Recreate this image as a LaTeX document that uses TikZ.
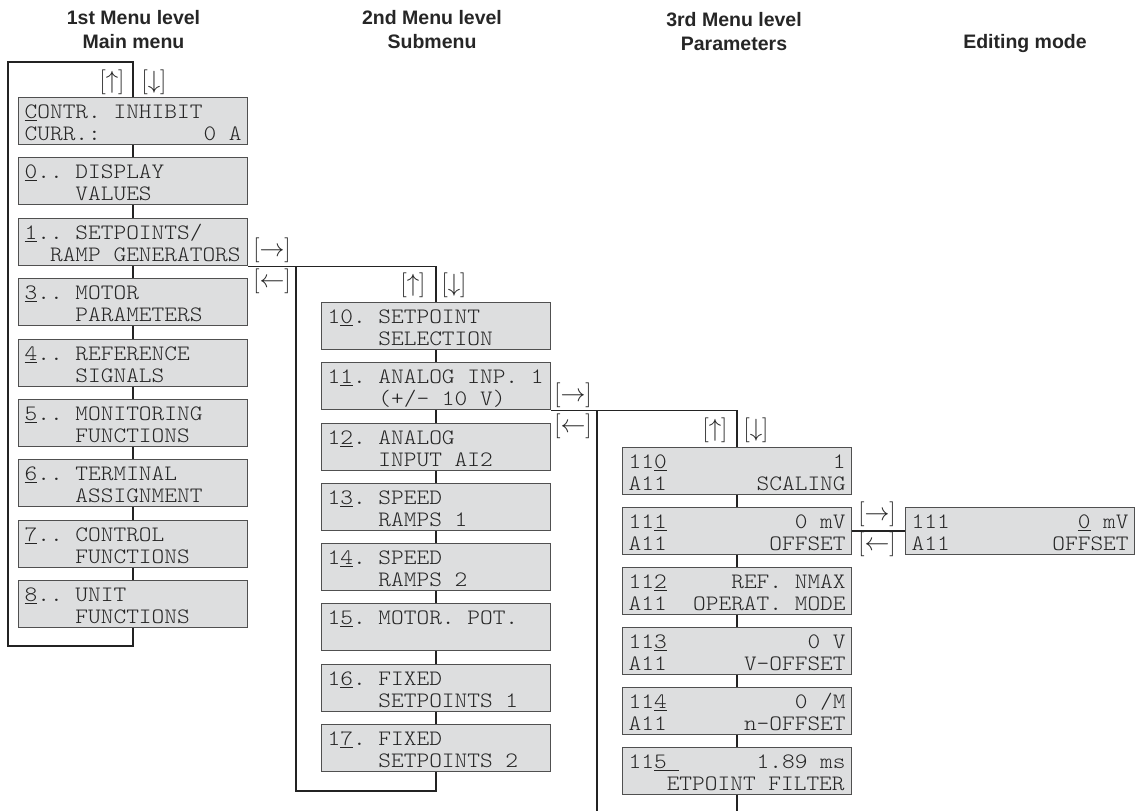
\documentclass[tikz,border=0pt]{standalone}
\usepackage{fontspec}
\setsansfont{Liberation Sans}
\newfontfamily\lcdfont{lmmonolt10-regular.otf}[FakeStretch=1.1]
\usepackage{tikz}
\definecolor{lcdfill}{RGB}{221,222,223}
\definecolor{lcdframe}{RGB}{80,80,80}
\definecolor{wire}{RGB}{35,35,35}
\newcommand{\lcd}[4]{\vtop{\frenchspacing\hbox to 217pt{#1\hfill#2}\hbox to 217pt{#3\hfill#4}}}
\tikzset{
  lcdbox/.style={draw=lcdframe, fill=lcdfill, line width=1.3pt, anchor=north west,
    inner xsep=6pt, inner ysep=0pt, text height=21pt, text depth=26pt,
    text=black!85, font=\lcdfont\fontsize{22}{22}\selectfont},
  link/.style={draw=wire, line width=1.4pt},
  keylabel/.style={inner sep=0pt, text=black!85, font=\fontsize{23}{23}\selectfont},
  heading/.style={align=center, text=black!85, font=\sffamily\bfseries\fontsize{19.5}{24}\selectfont}
}

\begin{document}
\begin{tikzpicture}[x=1pt,y=-1pt]
\useasboundingbox (0,0) rectangle (1136,811);
\node[heading] (h1) at (133.5,30) {1st Menu level\\Main menu};
\node[heading] (h2) at (432,30) {2nd Menu level\\Submenu};
\node[heading] (h3) at (734,32) {3rd Menu level\\Parameters};
\node[heading] (h4) at (1025,44) {Editing mode};
\node[lcdbox] (mC) at (18,97) {\lcd{\underline{C}ONTR. INHIBIT}{}{CURR.:}{0 A}};
\node[lcdbox] (m0) at (18,157) {\lcd{\underline{0}.. DISPLAY}{}{~~~~VALUES}{}};
\node[lcdbox] (m1) at (18,218) {\lcd{\underline{1}.. SETPOINTS/}{}{~~RAMP GENERATORS}{}};
\node[lcdbox] (m3) at (18,278) {\lcd{\underline{3}.. MOTOR}{}{~~~~PARAMETERS}{}};
\node[lcdbox] (m4) at (18,339) {\lcd{\underline{4}.. REFERENCE}{}{~~~~SIGNALS}{}};
\node[lcdbox] (m5) at (18,399) {\lcd{\underline{5}.. MONITORING}{}{~~~~FUNCTIONS}{}};
\node[lcdbox] (m6) at (18,459) {\lcd{\underline{6}.. TERMINAL}{}{~~~~ASSIGNMENT}{}};
\node[lcdbox] (m7) at (18,520) {\lcd{\underline{7}.. CONTROL}{}{~~~~FUNCTIONS}{}};
\node[lcdbox] (m8) at (18,580) {\lcd{\underline{8}.. UNIT}{}{~~~~FUNCTIONS}{}};
\node[lcdbox] (s10) at (321,302) {\lcd{1\underline{0}. SETPOINT}{}{~~~~SELECTION}{}};
\node[lcdbox] (s11) at (321,362) {\lcd{1\underline{1}. ANALOG INP. 1}{}{~~~~(+/- 10 V)}{}};
\node[lcdbox] (s12) at (321,423) {\lcd{1\underline{2}. ANALOG}{}{~~~~INPUT AI2}{}};
\node[lcdbox] (s13) at (321,483) {\lcd{1\underline{3}. SPEED}{}{~~~~RAMPS 1}{}};
\node[lcdbox] (s14) at (321,543) {\lcd{1\underline{4}. SPEED}{}{~~~~RAMPS 2}{}};
\node[lcdbox] (s15) at (321,603) {\lcd{1\underline{5}. MOTOR. POT.}{}{}{}};
\node[lcdbox] (s16) at (321,664) {\lcd{1\underline{6}. FIXED}{}{~~~~SETPOINTS 1}{}};
\node[lcdbox] (s17) at (321,724) {\lcd{1\underline{7}. FIXED}{}{~~~~SETPOINTS 2}{}};
\node[lcdbox] (p110) at (622,447) {\lcd{11\underline{0}}{1}{A11}{SCALING}};
\node[lcdbox] (p111) at (622,507) {\lcd{11\underline{1}}{0 mV}{A11}{OFFSET}};
\node[lcdbox] (p112) at (622,567) {\lcd{11\underline{2}}{REF. NMAX}{A11}{OPERAT. MODE}};
\node[lcdbox] (p113) at (622,627) {\lcd{11\underline{3}}{0 V}{A11}{V-OFFSET}};
\node[lcdbox] (p114) at (622,687) {\lcd{11\underline{4}}{0 /M}{A11}{n-OFFSET}};
\node[lcdbox] (p115) at (622,747) {\lcd{11\underline{5~}}{1.89 ms}{~~~ETPOINT FILTER}{}};
\node[lcdbox] (e111) at (905,507) {\lcd{111}{\underline{0} mV}{A11}{OFFSET}};
\node[keylabel] (k1up) at (112,82) {$[\uparrow]$};
\node[keylabel] (k1dn) at (154,82) {$[\downarrow]$};
\node[keylabel] (k1r) at (272,250) {$[\rightarrow]$};
\node[keylabel] (k1l) at (272,281) {$[\leftarrow]$};
\node[keylabel] (k2up) at (413,285) {$[\uparrow]$};
\node[keylabel] (k2dn) at (454,285) {$[\downarrow]$};
\node[keylabel] (k2r) at (573,395) {$[\rightarrow]$};
\node[keylabel] (k2l) at (573,426) {$[\leftarrow]$};
\node[keylabel] (k3up) at (715,430) {$[\uparrow]$};
\node[keylabel] (k3dn) at (756,430) {$[\downarrow]$};
\node[keylabel] (k4r) at (877,514) {$[\rightarrow]$};
\node[keylabel] (k4l) at (877,544) {$[\leftarrow]$};
\coordinate (t1) at (8,62);
\coordinate (b1) at (8,646);
\coordinate (b2) at (296,791);
\coordinate (b3) at (597,811);
\draw[link] (mC) -- (m0);
\draw[link] (m0) -- (m1);
\draw[link] (m1) -- (m3);
\draw[link] (m3) -- (m4);
\draw[link] (m4) -- (m5);
\draw[link] (m5) -- (m6);
\draw[link] (m6) -- (m7);
\draw[link] (m7) -- (m8);
\draw[link] (mC.north) -- (mC.north |- t1) -- (t1) -- (b1) -- (m8.south |- b1) -- (m8.south);
\draw[link] (s10) -- (s11);
\draw[link] (s11) -- (s12);
\draw[link] (s12) -- (s13);
\draw[link] (s13) -- (s14);
\draw[link] (s14) -- (s15);
\draw[link] (s15) -- (s16);
\draw[link] (s16) -- (s17);
\draw[link] (m1.south east) -- (s10.north |- m1.south east) -- (s10.north);
\draw[link] (b2 |- m1.south east) -- (b2) -- (s17.south |- b2) -- (s17.south);
\draw[link] (p110) -- (p111);
\draw[link] (p111) -- (p112);
\draw[link] (p112) -- (p113);
\draw[link] (p113) -- (p114);
\draw[link] (p114) -- (p115);
\draw[link] (s11.south east) -- (p110.north |- s11.south east) -- (p110.north);
\draw[link] (b3 |- s11.south east) -- (b3);
\draw[link] (p115.south) -- (p115.south |- b3);
\draw[link] (p111) -- (e111);
\end{tikzpicture}
\end{document}
